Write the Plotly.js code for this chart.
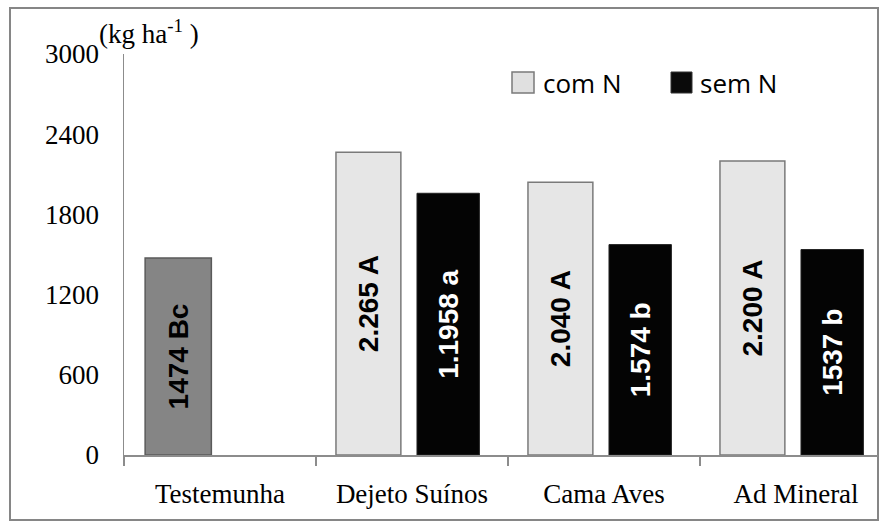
<!DOCTYPE html>
<html>
<head>
<meta charset="utf-8">
<script src="https://cdn.plot.ly/plotly-3.0.1.min.js"></script>
<style>html,body{margin:0;padding:0;background:#fff;}#chart{width:880px;height:523px;}</style>
</head>
<body>
<div id="chart"></div>
<script>
// ---- data ----
const categories = ['Testemunha', 'Dejeto Suínos', 'Cama Aves', 'Ad Mineral'];
const testemunhaCat = ['Testemunha'];
const testemunhaVal = [1474];
const testemunhaLbl = ['1474 Bc'];
const treatCats = ['Dejeto Suínos', 'Cama Aves', 'Ad Mineral'];
const comN = [2265, 2040, 2200];
const comNLbl = ['2.265 A', '2.040 A', '2.200 A'];
const semN = [1958, 1574, 1537];
const semNLbl = ['1.1958 a', '1.574 b', '1537 b'];
const yTicks = [0, 600, 1200, 1800, 2400, 3000];
const seriesNames = ['com N', 'sem N'];

// ---- layout helpers ----
const L = 124, R = 878, T = 54, B = 455;
const px = x => (x - L) / (R - L);
const py = y => (B - y) / (B - T);

const barFont = {family: 'Liberation Sans, Arial, sans-serif', size: 28, weight: 'bold'};

const traces = [
  {
    type: 'bar', name: 'Testemunha', x: testemunhaCat, y: testemunhaVal,
    text: testemunhaLbl, textposition: 'inside', insidetextanchor: 'middle', textangle: -90,
    constraintext: 'none',
    textfont: Object.assign({color: '#000'}, barFont),
    offset: -0.39, width: 0.345,
    marker: {color: '#858585', line: {color: '#5a5a5a', width: 1.5}},
    showlegend: false, hoverinfo: 'x+y'
  },
  {
    type: 'bar', name: seriesNames[0], x: treatCats, y: comN,
    text: comNLbl, textposition: 'inside', insidetextanchor: 'middle', textangle: -90,
    constraintext: 'none',
    textfont: Object.assign({color: '#000'}, barFont),
    offset: -0.396, width: 0.338,
    marker: {color: '#e6e6e6', line: {color: '#7a7a7a', width: 1.5}},
    showlegend: false, hoverinfo: 'x+y'
  },
  {
    type: 'bar', name: seriesNames[1], x: treatCats, y: semN,
    text: semNLbl, textposition: 'inside', insidetextanchor: 'middle', textangle: -90,
    constraintext: 'none',
    textfont: Object.assign({color: '#fff'}, barFont),
    offset: 0.026, width: 0.325,
    marker: {color: '#040404', line: {color: '#222', width: 1}},
    showlegend: false, hoverinfo: 'x+y'
  }
];

const layout = {
  width: 880, height: 523,
  margin: {l: L, r: 880 - R, t: T, b: 523 - B},
  paper_bgcolor: '#fff', plot_bgcolor: '#fff',
  barmode: 'overlay',
  showlegend: false,
  xaxis: {
    type: 'category', categoryorder: 'array', categoryarray: categories,
    range: [-0.5, -0.5 + (R - L) / 192],
    showline: true, linecolor: '#8c8c8c', linewidth: 1.5,
    ticks: 'outside', tickson: 'boundaries', ticklen: 9, tickcolor: '#8c8c8c', tickwidth: 1.2,
    showgrid: false, zeroline: false,
    tickfont: {family: 'Liberation Serif, Times New Roman, serif', size: 27, color: '#000'},
    ticklabelstandoff: 14
  },
  yaxis: {
    range: [0, 3000], tickvals: yTicks, ticktext: yTicks.map(String),
    showline: true, linecolor: '#8c8c8c', linewidth: 1.5,
    ticks: '', showgrid: false, zeroline: false,
    tickfont: {family: 'Liberation Serif, Times New Roman, serif', size: 27, color: '#000'},
    ticklabelstandoff: 18
  },
  shapes: [
    {type: 'rect', xref: 'paper', yref: 'paper', x0: px(10), x1: px(878), y0: py(520), y1: py(8),
     line: {color: '#868686', width: 2}, fillcolor: 'rgba(0,0,0,0)', layer: 'below'},
    {type: 'rect', xref: 'paper', yref: 'paper', x0: px(512), x1: px(534), y0: py(93), y1: py(72),
     line: {color: '#7a7a7a', width: 1.5}, fillcolor: '#e0e0e0'},
    {type: 'rect', xref: 'paper', yref: 'paper', x0: px(671), x1: px(692), y0: py(93), y1: py(72),
     line: {color: '#333', width: 1}, fillcolor: '#0a0a0a'}
  ],
  annotations: [
    {xref: 'paper', yref: 'paper', x: px(97), y: py(32), xanchor: 'left', yanchor: 'middle',
     text: '(kg ha<sup>-1</sup> )', showarrow: false,
     font: {family: 'Liberation Serif, Times New Roman, serif', size: 27, color: '#000'}},
    {xref: 'paper', yref: 'paper', x: px(541), y: py(83), xanchor: 'left', yanchor: 'middle',
     text: seriesNames[0], showarrow: false,
     font: {family: 'Open Sans, sans-serif', size: 26, color: '#000'}},
    {xref: 'paper', yref: 'paper', x: px(698), y: py(83), xanchor: 'left', yanchor: 'middle',
     text: seriesNames[1], showarrow: false,
     font: {family: 'Open Sans, sans-serif', size: 26, color: '#000'}}
  ]
};

Plotly.newPlot('chart', traces, layout, {displayModeBar: false, staticPlot: true});
</script>
</body>
</html>
